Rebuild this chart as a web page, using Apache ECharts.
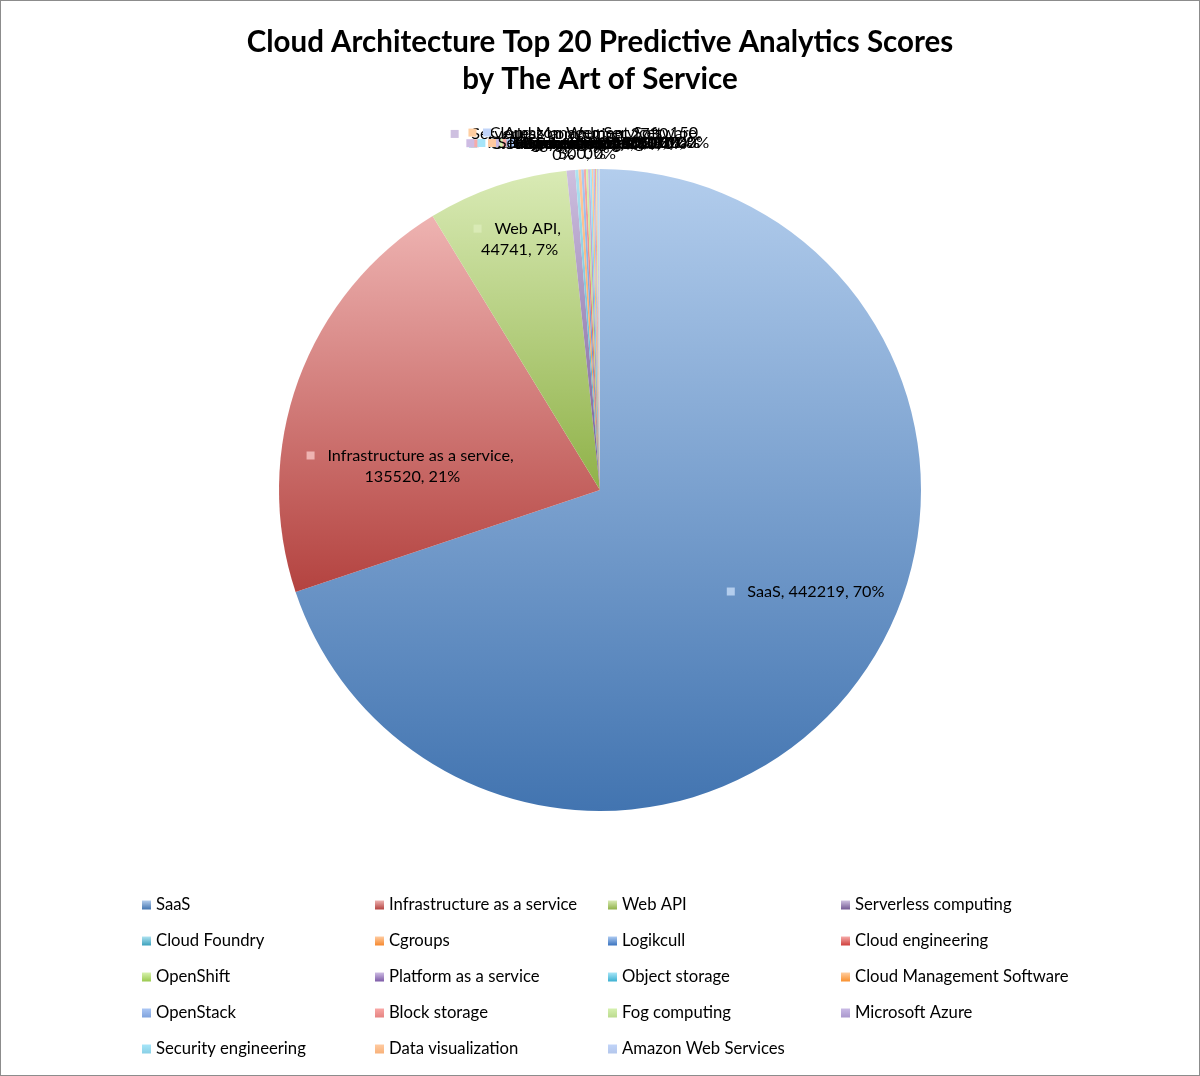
<!DOCTYPE html>
<html><head><meta charset="utf-8">
<script src="https://cdn.jsdelivr.net/npm/echarts@6/dist/echarts.min.js"></script>
<style>html,body{margin:0;padding:0;background:#fff}
#c{width:1200px;height:1076px;box-sizing:border-box;border:1px solid #8c8c8c}</style>
</head><body><div id="c"></div>
<script>
const titleText = 'Cloud Architecture Top 20 Predictive Analytics Scores\nby The Art of Service';
const categories = ['SaaS','Infrastructure as a service','Web API','Serverless computing','Cloud Foundry','Cgroups','Logikcull','Cloud engineering','OpenShift','Platform as a service','Object storage','Cloud Management Software','OpenStack','Block storage','Fog computing','Microsoft Azure','Security engineering','Data visualization','Amazon Web Services'];
const values = [442219,135520,44741,2730,1000,900,800,700,650,600,550,500,450,400,350,300,250,200,150];
const colors = ['#4F81BD','#C0504D','#9BBB59','#8064A2','#4BACC6','#F79646','#4A80C8','#D45350','#A5CF62','#8A6BB0','#4FB8D6','#FA9D46','#93B1E2','#E99896','#C7E1A2','#B8A9D5','#9ED8EA','#F9BF91','#C8D6F1'];

function toHsl(hex) {
  const n = parseInt(hex.slice(1), 16);
  const r = ((n >> 16) & 255) / 255, g = ((n >> 8) & 255) / 255, b = (n & 255) / 255;
  const mx = Math.max(r, g, b), mn = Math.min(r, g, b);
  let h = 0, s = 0; const l = (mx + mn) / 2;
  if (mx !== mn) {
    const d = mx - mn;
    s = l > 0.5 ? d / (2 - mx - mn) : d / (mx + mn);
    if (mx === r) h = (g - b) / d + (g < b ? 6 : 0);
    else if (mx === g) h = (b - r) / d + 2;
    else h = (r - g) / d + 4;
    h *= 60;
  }
  return [h, s, l];
}
function hsl(h, s, l) {
  s = Math.max(0, Math.min(1, s)); l = Math.max(0, Math.min(1, l));
  return 'hsl(' + h.toFixed(1) + ',' + (s * 100).toFixed(1) + '%,' + (l * 100).toFixed(1) + '%)';
}
function topShade(c) { const [h, s, l] = toHsl(c); return hsl(h, s * 1.35, Math.max(l, 0.815)); }
function botShade(c) { const [h, s, l] = toHsl(c); return hsl(h, s, l - 0.05); }
function grad(c) {
  return new echarts.graphic.LinearGradient(0, 0, 0, 1, [
    {offset: 0, color: topShade(c)},
    {offset: 1, color: botShade(c)}
  ]);
}
const total = values.reduce((a, b) => a + b, 0);
const bigCount = 3;
const insideOffsets = [[73, 6], [-34, 32], [-28, -96]];
const labelWidths = [300, 230, 100];

const data = categories.map((name, i) => ({
  name: name,
  value: values[i],
  itemStyle: {color: grad(colors[i])},
  label: i < bigCount ? {
    position: 'inside',
    width: labelWidths[i],
    overflow: 'break',
    rich: {k: {width: 8, height: 8, backgroundColor: topShade(colors[i])}}
  } : {
    position: 'outside',
    width: 240,
    overflow: 'break',
    rich: {k: {width: 8, height: 8, backgroundColor: topShade(colors[i])}}
  }
}));

const chart = echarts.init(document.getElementById('c'), null, {renderer: 'canvas'});
const font = 'Lato, "Noto Sans", sans-serif';
chart.setOption({
  animation: false,
  backgroundColor: '#ffffff',
  title: {
    text: titleText,
    left: 'center',
    top: 23,
    padding: 0,
    textStyle: {fontFamily: font, fontSize: 29.5, fontWeight: 'bold', color: '#000', lineHeight: 37}
  },
  legend: {
    data: categories,
    left: 141,
    top: 886,
    width: 940,
    padding: 0,
    itemWidth: 9,
    itemHeight: 9,
    itemGap: 0,
    icon: 'rect',
    textStyle: {fontFamily: font, fontSize: 16.7, color: '#000', width: 219, lineHeight: 36}
  },
  series: [{
    type: 'pie',
    center: [599, 489],
    radius: ['0%', 321],
    startAngle: 90,
    clockwise: true,
    avoidLabelOverlap: false,
    data: data,
    itemStyle: {borderWidth: 0},
    label: {
      show: true,
      fontFamily: font,
      fontSize: 16.2,
      color: '#000',
      lineHeight: 21,
      align: 'center',
      formatter: p => '{k|}   ' + p.name + ', ' + p.value + ', ' + Math.round(p.value / total * 100) + '%'
    },
    labelLine: {show: false, length: 26, length2: 0},
    labelLayout: function (params) {
      const i = params.dataIndex;
      if (i < bigCount) {
        return {dx: insideOffsets[i][0], dy: insideOffsets[i][1]};
      }
      return {align: 'center'};
    }
  }]
});
</script></body></html>
